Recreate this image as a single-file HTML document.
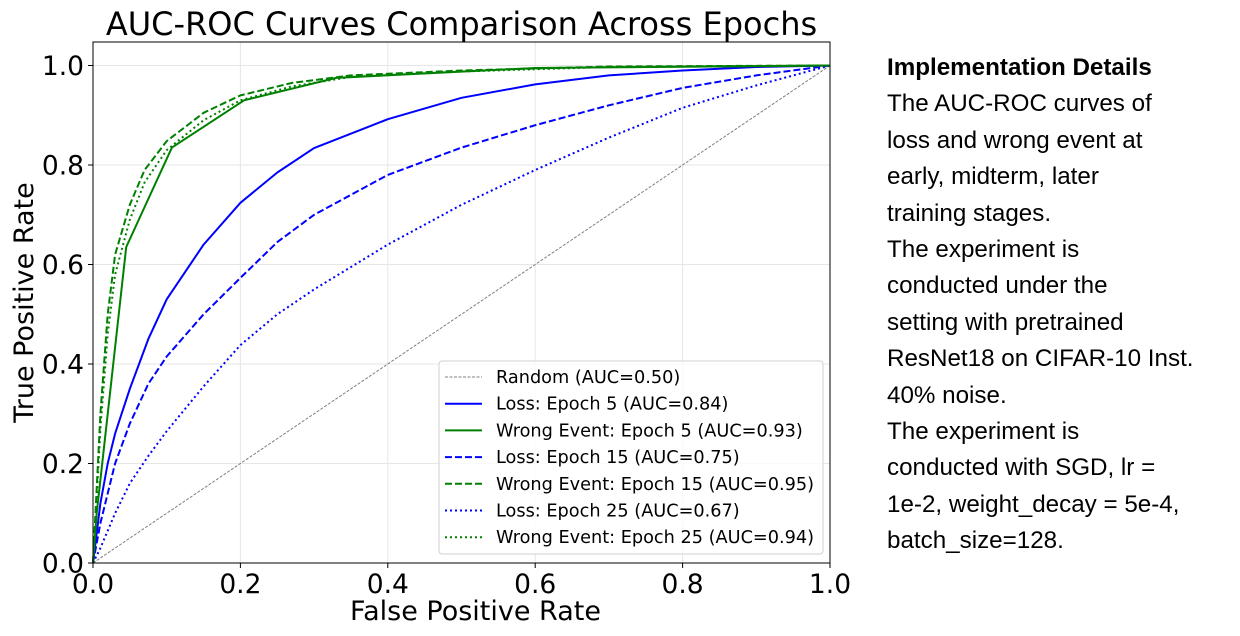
<!DOCTYPE html>
<html><head><meta charset="utf-8"><style>
html,body{margin:0;padding:0;background:#fff;}
body{width:1240px;height:636px;position:relative;overflow:hidden;}
svg text{font-family:"DejaVu Sans","Liberation Sans",sans-serif;}
#notes{position:absolute;left:887px;top:50px;font-family:"Liberation Sans",sans-serif;font-size:24.2px;line-height:36.4px;color:#000;white-space:nowrap;}
</style></head><body>
<svg id="chart" width="870" height="636" style="position:absolute;left:0;top:0"></svg>
<div id="notes">
<div><b>Implementation Details</b></div>
<div>The AUC-ROC curves of</div>
<div>loss and wrong event at</div>
<div>early, midterm, later</div>
<div>training stages.</div>
<div>The experiment is</div>
<div>conducted under the</div>
<div>setting with pretrained</div>
<div>ResNet18 on CIFAR-10 Inst.</div>
<div>40% noise.</div>
<div>The experiment is</div>
<div>conducted with SGD, lr =</div>
<div>1e-2, weight_decay = 5e-4,</div>
<div>batch_size=128.</div>
</div>
<script>
const ticks = [0, 0.2, 0.4, 0.6, 0.8, 1.0];
const tickLabels = ["0.0","0.2","0.4","0.6","0.8","1.0"];
const lossE5X = [0,0.005,0.01,0.02,0.03,0.05,0.075,0.1,0.15,0.2,0.25,0.3,0.4,0.5,0.6,0.7,0.8,0.9,1];
const lossE5Y = [0,0.06,0.12,0.2,0.26,0.35,0.45,0.53,0.64,0.724,0.785,0.834,0.892,0.935,0.962,0.98,0.99,0.997,1];
const lossE15X = [0,0.005,0.01,0.02,0.03,0.05,0.075,0.1,0.15,0.2,0.25,0.3,0.4,0.5,0.6,0.7,0.8,0.9,1];
const lossE15Y = [0,0.04,0.08,0.14,0.2,0.28,0.36,0.415,0.5,0.573,0.645,0.7,0.78,0.835,0.88,0.92,0.955,0.98,1];
const lossE25X = [0,0.01,0.03,0.05,0.075,0.1,0.15,0.2,0.25,0.3,0.4,0.5,0.6,0.7,0.8,0.9,1];
const lossE25Y = [0,0.03,0.1,0.16,0.215,0.265,0.355,0.438,0.5,0.55,0.64,0.72,0.79,0.855,0.915,0.96,1];
const wrongE5X = [0,0.005,0.045,0.107,0.205,0.33,0.6,1];
const wrongE5Y = [0,0.1,0.635,0.835,0.93,0.975,0.995,1];
const wrongE15X = [0,0.005,0.01,0.02,0.03,0.05,0.07,0.1,0.15,0.2,0.27,0.35,0.5,0.7,1];
const wrongE15Y = [0,0.15,0.3,0.5,0.62,0.72,0.79,0.848,0.905,0.94,0.965,0.98,0.99,0.998,1];
const wrongE25X = [0,0.005,0.01,0.02,0.03,0.05,0.07,0.1,0.15,0.2,0.27,0.35,0.5,0.7,1];
const wrongE25Y = [0,0.13,0.27,0.46,0.58,0.69,0.765,0.83,0.89,0.93,0.958,0.977,0.988,0.997,1];
const legendLabels = ["Random (AUC=0.50)","Loss: Epoch 5 (AUC=0.84)","Wrong Event: Epoch 5 (AUC=0.93)","Loss: Epoch 15 (AUC=0.75)","Wrong Event: Epoch 15 (AUC=0.95)","Loss: Epoch 25 (AUC=0.67)","Wrong Event: Epoch 25 (AUC=0.94)"];

const NS="http://www.w3.org/2000/svg";
const svg=document.getElementById('chart');
const X0=93,X1=830,Y0=563,Y1=65.5;
const sx=v=>X0+(X1-X0)*v;
const sy=v=>Y0-(Y0-Y1)*v;
function mk(tag,attrs,parent){const e=document.createElementNS(NS,tag);for(const k in attrs)e.setAttribute(k,attrs[k]);(parent||svg).appendChild(e);return e;}

ticks.forEach(t=>{
  const g1=mk('line',{x1:sx(t),x2:sx(t),y1:42,y2:Y0,stroke:'#e6e6e6','stroke-width':1});
  
  
  const g2=mk('line',{x1:X0,x2:X1,y1:sy(t),y2:sy(t),stroke:'#e6e6e6','stroke-width':1});
  
  
});
const diag=mk('line',{x1:sx(0),y1:sy(0),x2:sx(1),y2:sy(1),stroke:'#808080','stroke-width':1,'stroke-dasharray':'3,1.5'});



function curve(xs,ys,color,dash,name){
  const d=xs.map((x,i)=>(i?'L':'M')+sx(x).toFixed(1)+','+sy(ys[i]).toFixed(1)).join('');
  const p=mk('path',{d:d,fill:'none',stroke:color,'stroke-width':2,'stroke-dasharray':dash,'stroke-linejoin':'round'});
  
  
}
curve(lossE25X,lossE25Y,'#0000ff','2,3','loss-epoch25-curve');
curve(lossE15X,lossE15Y,'#0000ff','7,3','loss-epoch15-curve');
curve(lossE5X,lossE5Y,'#0000ff','none','loss-epoch5-curve');
curve(wrongE25X,wrongE25Y,'#008000','2,3','wrong-epoch25-curve');
curve(wrongE15X,wrongE15Y,'#008000','7,3','wrong-epoch15-curve');
curve(wrongE5X,wrongE5Y,'#008000','none','wrong-epoch5-curve');

const fr=mk('rect',{x:X0,y:42,width:X1-X0,height:Y0-42,fill:'none',stroke:'#000','stroke-width':1});



ticks.forEach((t,i)=>{
  mk('line',{x1:sx(t),x2:sx(t),y1:Y0,y2:Y0+5,stroke:'#000'});
  const tx=mk('text',{x:sx(t),y:Y0+30,'font-size':26.5,'text-anchor':'middle'});
  tx.textContent=tickLabels[i];
  
  
  mk('line',{x1:X0-5,x2:X0,y1:sy(t),y2:sy(t),stroke:'#000'});
  const ty=mk('text',{x:X0-9,y:sy(t)+9.5,'font-size':26.5,'text-anchor':'end'});
  ty.textContent=tickLabels[i];
  
  
});
const xt=mk('text',{x:(X0+X1)/2+14,y:620,'font-size':27,'text-anchor':'middle'});
xt.textContent='False Positive Rate';


const yt=mk('text',{x:0,y:0,'font-size':27,'text-anchor':'middle',transform:'translate(33,'+((42+Y0)/2)+') rotate(-90)'});
yt.textContent='True Positive Rate';


const tt=mk('text',{x:(X0+X1)/2,y:35,'font-size':32,'text-anchor':'middle'});
tt.textContent='AUC-ROC Curves Comparison Across Epochs';



const lg=mk('rect',{x:439,y:361,width:384,height:193,rx:3,fill:'#fff','fill-opacity':0.8,stroke:'#d0d0d0'});


const lStyles=[['#808080','3,1.5',1],['#0000ff','none',2],['#008000','none',2],['#0000ff','7,3',2],['#008000','7,3',2],['#0000ff','2,3',2],['#008000','2,3',2]];
legendLabels.forEach((lab,i)=>{
  const y=377+i*26.7;
  const s=lStyles[i];
  mk('line',{x1:445,x2:482,y1:y,y2:y,stroke:s[0],'stroke-width':s[2],'stroke-dasharray':s[1]});
  const t=mk('text',{x:496,y:y+6,'font-size':17.7});
  t.textContent=lab;
  
  
});
</script>
</body></html>
